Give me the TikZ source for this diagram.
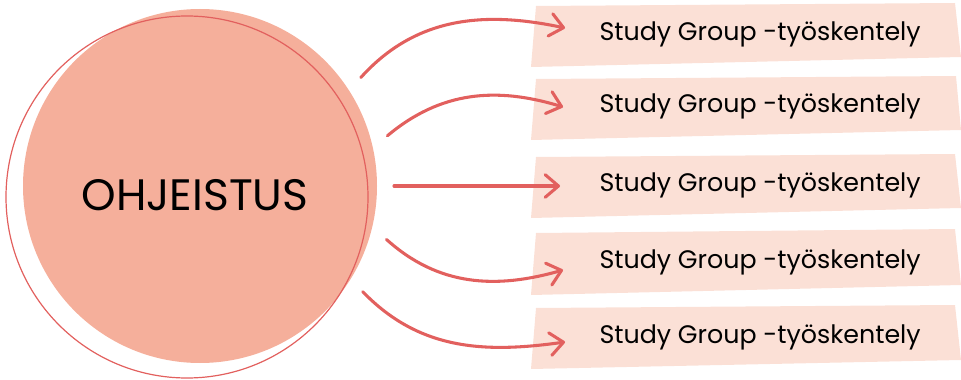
\documentclass[tikz,border=0pt]{standalone}
\usepackage{fontspec}
\setmainfont{Poppins}
\usetikzlibrary{arrows.meta}

\definecolor{salmon}{RGB}{245,175,155}
\definecolor{coral}{RGB}{226,96,94}
\definecolor{blush}{RGB}{251,224,214}

\begin{document}
\begin{tikzpicture}[x=0.75pt,y=0.75pt,
	-{Straight Barb[length=10pt,width=17pt,round]},line width=2.3pt,draw=coral,line cap=round,
	main node/.style={circle,fill=salmon,inner sep=0pt,minimum size=354*0.75pt,outer sep=17*0.75pt},
	title node/.style={font=\fontsize{33}{38}\selectfont},
	group node/.style={anchor=west,inner sep=0pt,font=\fontsize{19}{22}\selectfont}]
	\useasboundingbox (0,0) rectangle (961,379);
	
	% boxes
	\fill[blush] (536,373) -- (955,376) -- (961,322) -- (531,312) -- cycle;
	\fill[blush] (536,300) -- (956,303) -- (961,249) -- (531,239) -- cycle;
	\fill[blush] (536,222) -- (955,225) -- (961,171) -- (531,161) -- cycle;
	\fill[blush] (536,146) -- (955,150) -- (961,94) -- (531,84) -- cycle;
	\fill[blush] (536,71) -- (955,74) -- (961,19) -- (531,10) -- cycle;
	
	% circle
	\node[main node] (ohj) at (200,193) {};
	\draw[-,line width=0.9pt] (187,182) circle[radius=181];
	\node[title node] (title) at (195,184) {OHJEISTUS};
	
	\node[group node] (sg1) at (598,345) {Study Group -työskentely};
	\node[group node] (sg2) at (598,273) {Study Group -työskentely};
	\node[group node] (sg3) at (598,194) {Study Group -työskentely};
	\node[group node] (sg4) at (598,117) {Study Group -työskentely};
	\node[group node] (sg5) at (598,42) {Study Group -työskentely};
	
	\path
	(ohj.34) edge[out=48,in=168] ([xshift=-33*0.75pt,yshift=6*0.75pt]sg1.west)
	(ohj.15) edge[out=40,in=163] ([xshift=-35*0.75pt,yshift=-1*0.75pt]sg2.west)
	(ohj.0) edge ([xshift=-38*0.75pt,yshift=-1*0.75pt]sg3.west)
	(ohj.-16) edge[out=-42,in=-164] ([xshift=-35*0.75pt,yshift=-8*0.75pt]sg4.west)
	(ohj.-33) edge[out=-46,in=-172] ([xshift=-33*0.75pt,yshift=-5*0.75pt]sg5.west);
\end{tikzpicture}
\end{document}
